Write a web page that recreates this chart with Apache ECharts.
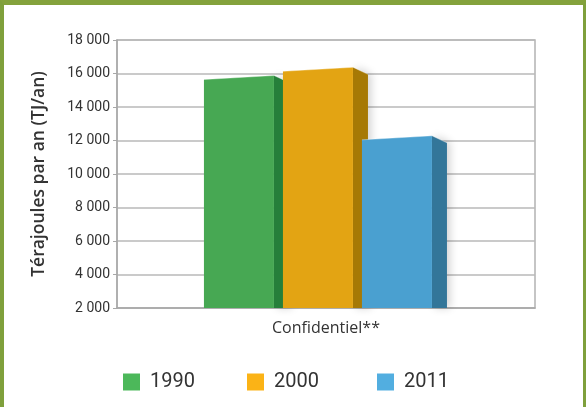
<!DOCTYPE html>
<html><head><meta charset="utf-8">
<script src="https://cdn.jsdelivr.net/npm/echarts@6/dist/echarts.min.js"></script>
<style>
html,body{margin:0;padding:0;background:#fff;}
#frame{position:absolute;left:0;top:0;width:586px;height:407px;box-sizing:border-box;border-left:4px solid #7fa03c;border-right:3px solid #7fa03c;border-top:5px solid #84a23c;background:#fff;}
#c{position:absolute;left:0;top:0;width:586px;height:407px;}
</style></head>
<body><div id="frame"></div><div id="c"></div>
<script>
const categories = ['Confidentiel**'];
const years = ['1990', '2000', '2011'];
const values1990 = [15880];
const values2000 = [16370];
const values2011 = [12280];
const yTicks = { min: 2000, max: 18000, interval: 2000 };
const axisTitle = 'Térajoules par an (TJ/an)';

const faceColors = [
  { front: '#47a853', side: '#267f3a', legend: '#4cb85a' },
  { front: '#e3a413', side: '#a67905', legend: '#fbb316' },
  { front: '#4aa0d0', side: '#337699', legend: '#52aee0' }
];
const seriesValues = [values1990, values2000, values2011];

function makeRender(si) {
  return function (params, api) {
    const v = api.value(1);
    const top = api.coord([api.value(0), v]);
    const base = api.coord([api.value(0), yTicks.min]);
    const band = api.size([1, 0])[0];
    const step = band * 0.189;
    const w = band * 0.1675;
    const x0 = top[0] - band * 0.292 + si * step;
    const x1 = x0 + w;
    const yT = top[1];
    const yB = base[1];
    const slant = 4;
    const dx = 15, dy = 7;
    return {
      type: 'group',
      children: [
        {
          type: 'polygon',
          shape: { points: [[x1, yT], [x1 + dx, yT + dy], [x1 + dx, yB], [x1, yB]] },
          style: { fill: faceColors[si].side, shadowBlur: 8, shadowColor: 'rgba(0,0,0,0.18)', shadowOffsetX: 3 }
        },
        {
          type: 'polygon',
          shape: { points: [[x0, yT + slant], [x1, yT], [x1, yB], [x0, yB]] },
          style: { fill: faceColors[si].front }
        },
        {
          type: 'polyline',
          shape: { points: [[x0, yT + slant], [x1, yT], [x1 + dx, yT + dy]] },
          style: { stroke: 'rgba(255,255,255,0.35)', lineWidth: 1, fill: null }
        }
      ]
    };
  };
}

const chart = echarts.init(document.getElementById('c'));
const legendLefts = [118, 242, 372];
chart.setOption({
  animation: false,
  grid: { left: 117, right: 51, top: 40, bottom: 99, show: true, borderColor: '#b3b3b3', borderWidth: 1.5 },
  xAxis: {
    type: 'category', data: categories,
    axisLine: { lineStyle: { color: '#a8a8a8', width: 1.5 } },
    axisTick: { show: false },
    axisLabel: { color: '#333', fontFamily: 'Open Sans', fontSize: 16, margin: 12 }
  },
  yAxis: {
    type: 'value', min: yTicks.min, max: yTicks.max, interval: yTicks.interval,
    name: axisTitle, nameLocation: 'middle', nameGap: 69, nameRotate: 90,
    nameTextStyle: { color: '#333', fontFamily: 'Open Sans', fontWeight: 600, fontSize: 17.5 },
    axisLine: { show: true, lineStyle: { color: '#a8a8a8', width: 1.5 } },
    axisTick: { show: true, length: 4, lineStyle: { color: '#a8a8a8' } },
    splitLine: { lineStyle: { color: '#b8b8b8', width: 1.5 } },
    axisLabel: {
      color: '#333', fontFamily: 'Roboto', fontSize: 14, margin: 7,
      formatter: v => String(v).replace(/\B(?=(\d{3})+(?!\d))/g, ' ')
    }
  },
  legend: years.map((y, i) => ({
    data: [{ name: y, itemStyle: { color: faceColors[i].legend } }],
    left: legendLefts[i], top: 367, icon: 'rect', itemWidth: 17, itemHeight: 17, itemGap: 0,
    selectedMode: false,
    textStyle: { color: '#333', fontFamily: 'Roboto', fontSize: 20, padding: [0, 0, 0, 5] }
  })),
  series: years.map((y, i) => ({
    name: y, type: 'custom',
    itemStyle: { color: faceColors[i].legend },
    renderItem: makeRender(i),
    encode: { x: 0, y: 1 },
    data: seriesValues[i].map((v, k) => [k, v])
  }))
});
</script></body></html>
